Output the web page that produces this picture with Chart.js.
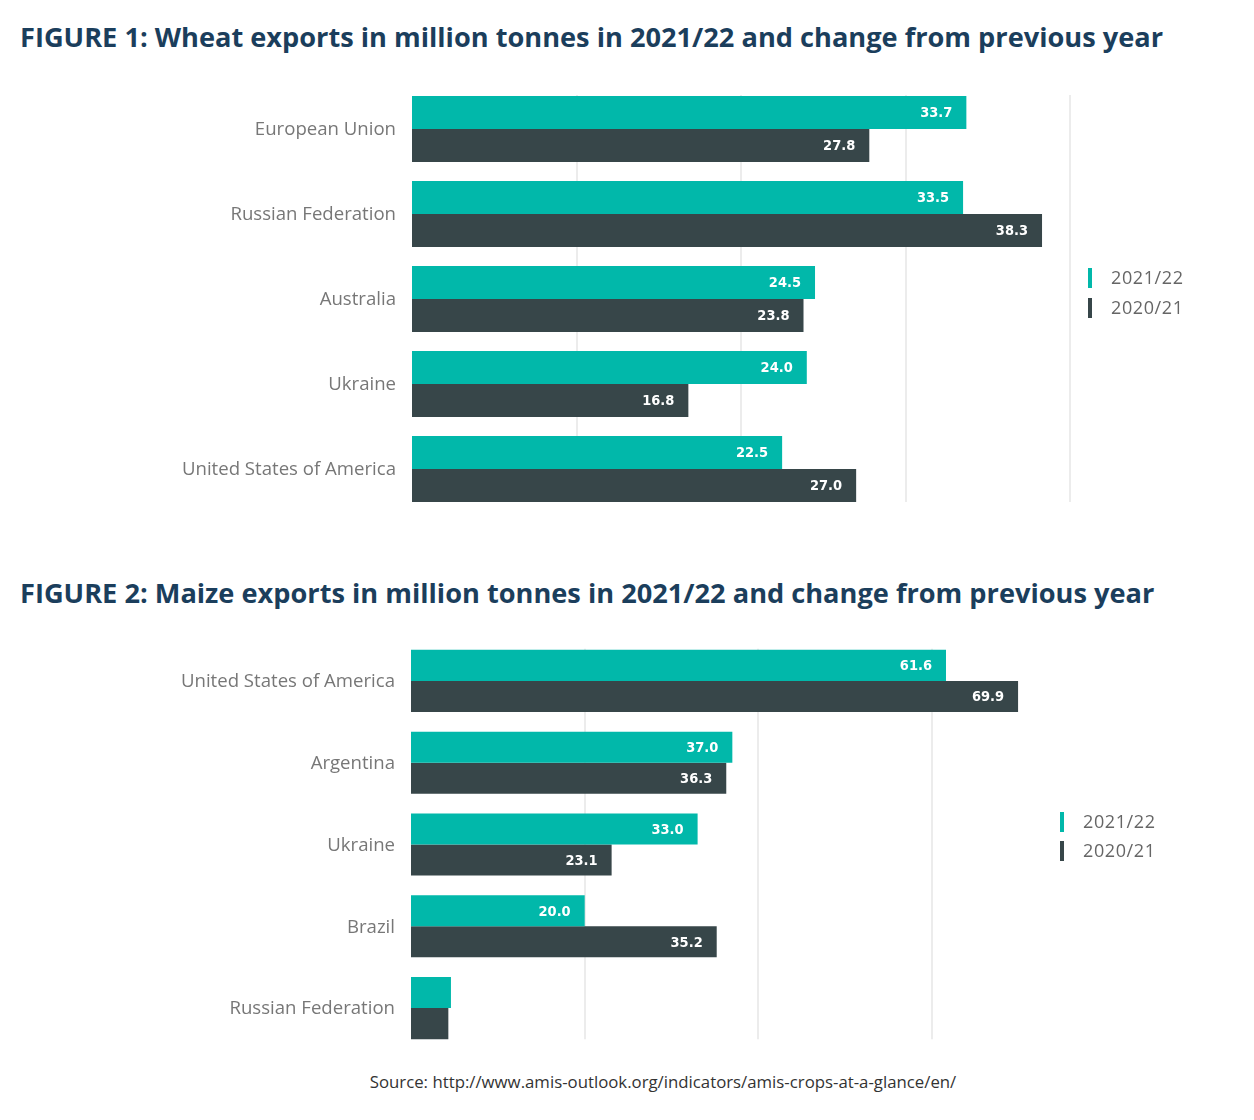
<!DOCTYPE html>
<html>
<head>
<meta charset="utf-8">
<script src="https://cdn.jsdelivr.net/npm/chart.js@4.4.1/dist/chart.umd.min.js"></script>
<style>
  html, body { margin: 0; padding: 0; background: #ffffff; }
  body { width: 1254px; height: 1120px; position: relative; overflow: hidden; }
  .title { position: absolute; left: 20px; font: bold 27.2px "Open Sans", sans-serif; color: #1b3e5c; white-space: nowrap; }
  .box { position: absolute; left: 0; width: 1254px; }
  .source { position: absolute; left: 0; width: 1326px; text-align: center; top: 1070px; font: 16.8px "Open Sans", sans-serif; color: #333; }
</style>
</head>
<body>
<div class="title" id="t1" style="top:18px">FIGURE 1: Wheat exports in million tonnes in 2021/22 and change from previous year</div>
<div class="box" style="top:70px;height:460px"><canvas id="c1" width="1254" height="460"></canvas></div>
<div class="title" id="t2" style="top:574px">FIGURE 2: Maize exports in million tonnes in 2021/22 and change from previous year</div>
<div class="box" style="top:620px;height:450px"><canvas id="c2" width="1254" height="450"></canvas></div>
<div class="source">Source: http://www.amis-outlook.org/indicators/amis-crops-at-a-glance/en/</div>
<script>
// ---- data ----
const seriesLabels = ["2021/22", "2020/21"];
const wheatCountries = ["European Union", "Russian Federation", "Australia", "Ukraine", "United States of America"];
const wheat2122 = [33.7, 33.5, 24.5, 24.0, 22.5];
const wheat2021 = [27.8, 38.3, 23.8, 16.8, 27.0];
const maizeCountries = ["United States of America", "Argentina", "Ukraine", "Brazil", "Russian Federation"];
const maize2122 = [61.6, 37.0, 33.0, 20.0, 4.6];
const maize2021 = [69.9, 36.3, 23.1, 35.2, 4.3];

const TEAL = "#01b8aa";
const DARK = "#374649";

const valueLabels = {
  id: "valueLabels",
  afterDatasetsDraw(chart) {
    const ctx = chart.ctx;
    ctx.save();
    ctx.font = 'bold 14.5px "DejaVu Sans Condensed", "Roboto", sans-serif';
    ctx.fillStyle = "#ffffff";
    ctx.textAlign = "right";
    ctx.textBaseline = "middle";
    chart.data.datasets.forEach((ds, di) => {
      const meta = chart.getDatasetMeta(di);
      meta.data.forEach((bar, i) => {
        const w = bar.x - bar.base;
        if (w < 60) return;
        ctx.fillText(ds.data[i].toFixed(1), bar.x - 14, bar.y + 1);
      });
    });
    ctx.restore();
  }
};

const gridLines = {
  id: "gridLines",
  beforeDatasetsDraw(chart, args, opts) {
    const ctx = chart.ctx;
    const xs = chart.scales.x;
    const first = chart.getDatasetMeta(0).data[0];
    const lastMeta = chart.getDatasetMeta(chart.data.datasets.length - 1);
    const last = lastMeta.data[lastMeta.data.length - 1];
    const top = first.y - first.height / 2 - 1;
    const bottom = last.y + last.height / 2;
    ctx.save();
    ctx.strokeStyle = "#ececec";
    ctx.lineWidth = 2;
    xs.ticks.forEach(t => {
      if (t.value > 0 && t.value % opts.step === 0) {
        const x = Math.round(xs.getPixelForValue(t.value));
        ctx.beginPath();
        ctx.moveTo(x, top);
        ctx.lineTo(x, bottom);
        ctx.stroke();
      }
    });
    ctx.restore();
  }
};

const sideLegend = {
  id: "sideLegend",
  afterDraw(chart, args, opts) {
    const ctx = chart.ctx;
    ctx.save();
    ctx.font = '18px "Open Sans", sans-serif';
    ctx.letterSpacing = "0.6px";
    ctx.textBaseline = "middle";
    ctx.textAlign = "left";
    chart.data.datasets.forEach((ds, i) => {
      const y = opts.y + i * opts.gap;
      ctx.fillStyle = ds.backgroundColor;
      ctx.fillRect(opts.x, y - 10, 4, 20);
      ctx.fillStyle = "#666666";
      ctx.fillText(ds.label, opts.x + 23, y + 1);
    });
    ctx.restore();
  }
};

function makeChart(id, cats, a, b, cfg) {
  return new Chart(document.getElementById(id), {
    type: "bar",
    data: {
      labels: cats,
      datasets: [
        { label: seriesLabels[0], data: a, backgroundColor: TEAL },
        { label: seriesLabels[1], data: b, backgroundColor: DARK }
      ]
    },
    options: {
      indexAxis: "y",
      responsive: false,
      animation: false,
      datasets: { bar: { barPercentage: 1.0, categoryPercentage: cfg.catPct } },
      layout: { padding: { left: 0, right: cfg.padRight, top: cfg.padTop, bottom: cfg.padBottom } },
      plugins: {
        legend: { display: false },
        tooltip: { enabled: false },
        sideLegend: { x: cfg.legX, y: cfg.legY, gap: cfg.legGap },
        gridLines: { step: cfg.step }
      },
      scales: {
        x: {
          min: 0, max: cfg.max,
          ticks: { display: false, stepSize: cfg.step },
          border: { display: false },
          grid: { display: false, drawTicks: false },
          afterFit(s) { s.height = 0; s.paddingLeft = 0; s.paddingRight = 0; }
        },
        y: {
          ticks: { color: "#777777", font: { family: "Open Sans", size: 18.6 }, padding: 16, labelOffset: 1 },
          grid: { display: false, drawTicks: false },
          border: { display: false },
          afterFit(s) { s.width = cfg.left; s.paddingTop = 0; s.paddingBottom = 0; }
        }
      }
    },
    plugins: [gridLines, valueLabels, sideLegend]
  });
}

makeChart("c1", wheatCountries, wheat2122, wheat2021, {
  catPct: 66 / 85, padRight: 1254 - 1070, padTop: 16.5, padBottom: 18.5,
  max: 40, step: 10, left: 412, legX: 1088, legY: 208, legGap: 30
});
makeChart("c2", maizeCountries, maize2122, maize2021, {
  catPct: 62 / 81.7, padRight: 1254 - 1045, padTop: 20, padBottom: 21,
  max: 73, step: 20, left: 411, legX: 1060, legY: 202, legGap: 29
});
</script>
</body>
</html>
